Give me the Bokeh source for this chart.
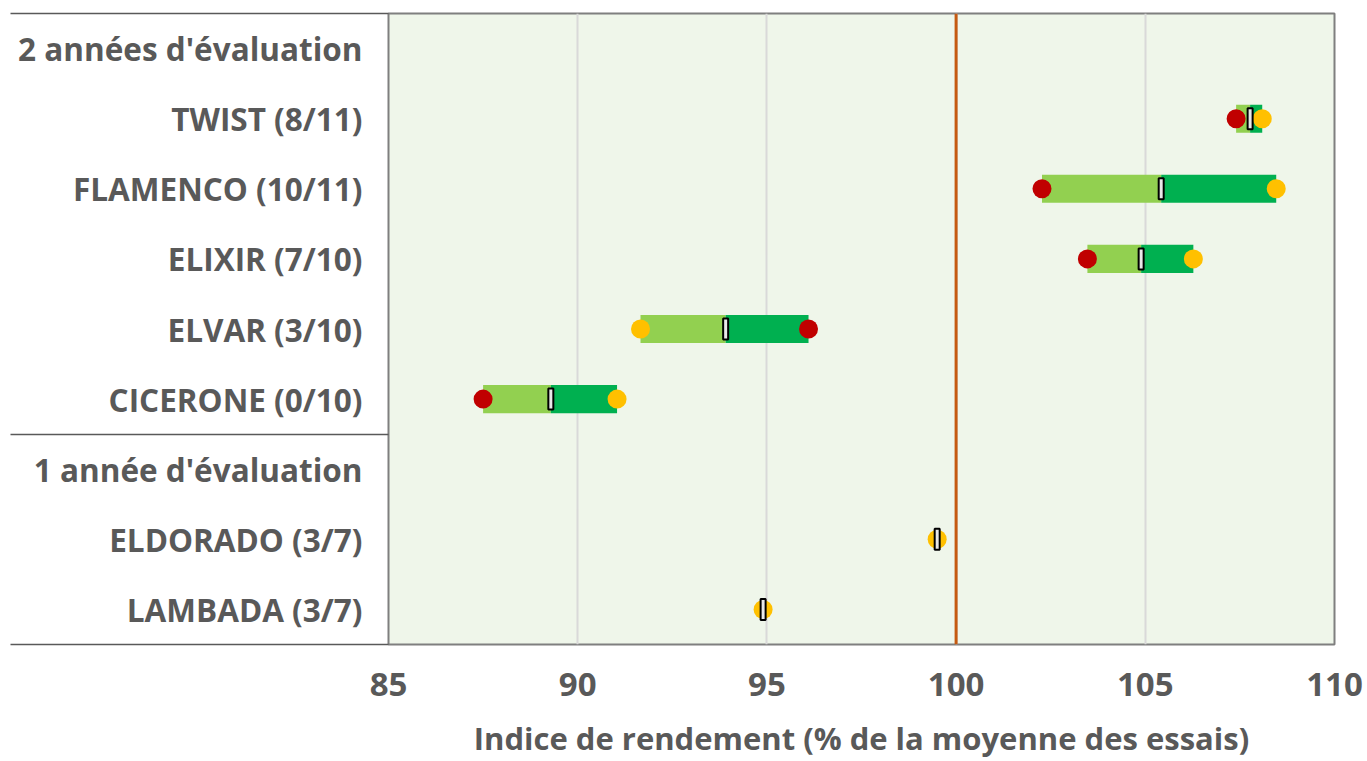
from bokeh.plotting import figure
from bokeh.models import Range1d, FixedTicker, Span, ColumnDataSource
from bokeh.embed import file_html
from bokeh.resources import INLINE

# ---------------- data ----------------
row_labels = ["2 années d'évaluation", "TWIST (8/11)", "FLAMENCO (10/11)", "ELIXIR (7/10)",
              "ELVAR (3/10)", "CICERONE (0/10)", "1 année d'évaluation",
              "ELDORADO (3/7)", "LAMBADA (3/7)"]

two_year_names = ["TWIST (8/11)", "FLAMENCO (10/11)", "ELIXIR (7/10)", "ELVAR (3/10)", "CICERONE (0/10)"]
red_values = [107.4, 102.27, 103.47, 96.1, 87.5]
yellow_two_values = [108.09, 108.46, 106.27, 91.66, 91.04]
mean_two_values = [107.77, 105.42, 104.89, 93.91, 89.29]

one_year_names = ["ELDORADO (3/7)", "LAMBADA (3/7)"]
yellow_one_values = [99.5, 94.9]
mean_one_values = [99.5, 94.9]

x_ticks = [85, 90, 95, 100, 105, 110]
grid_ticks = [90, 95, 100, 105]
reference_value = 100
group_boundaries = [-0.5, 2.5, 8.5]
x_title = "Indice de rendement (% de la moyenne des essais)"

# ---------------- styles ----------------
FONT = "Open Sans"
TXT = "#595959"
n = len(row_labels)
ypos = {lab: n - 1 - i for i, lab in enumerate(row_labels)}

SEP_LEN = 378

p = figure(width=1365, height=761, output_backend="svg", toolbar_location=None,
           x_range=Range1d(x_ticks[0], x_ticks[-1]), y_range=Range1d(-0.5, n - 0.5),
           min_border_left=388, min_border_right=31, min_border_top=13, min_border_bottom=113)
p.background_fill_color = "#EFF6EA"
p.border_fill_color = "white"
p.outline_line_color = "#7F7F7F"
p.outline_line_width = 2

# grid
p.xgrid.ticker = FixedTicker(ticks=grid_ticks)
p.xgrid.grid_line_color = "#D9D9D9"
p.xgrid.grid_line_width = 2
p.ygrid.grid_line_color = None

# x axis
xa = p.xaxis[0]
xa.ticker = FixedTicker(ticks=x_ticks)
xa.axis_line_color = None
xa.major_tick_line_color = None
xa.minor_tick_line_color = None
xa.major_label_text_font = FONT
xa.major_label_text_font_style = "bold"
xa.major_label_text_font_size = "33px"
xa.major_label_text_color = TXT
xa.major_label_standoff = 22
xa.axis_label = x_title
xa.axis_label_text_font = FONT
xa.axis_label_text_font_style = "bold"
xa.axis_label_text_font_size = "31px"
xa.axis_label_text_color = TXT
xa.axis_label_text_line_height = 0.7
xa.axis_label_standoff = 18

# y axis (labels + group separator lines via minor ticks)
ya = p.yaxis[0]
ya.ticker = FixedTicker(ticks=[ypos[l] for l in row_labels], minor_ticks=group_boundaries)
ya.major_label_overrides = {ypos[l]: l for l in row_labels}
ya.axis_line_color = None
ya.major_tick_line_color = None
ya.major_tick_out = 0
ya.major_tick_in = 0
ya.minor_tick_line_color = "#595959"
ya.minor_tick_line_width = 1.5
ya.minor_tick_out = SEP_LEN
ya.minor_tick_in = 0
ya.major_label_text_font = FONT
ya.major_label_text_font_style = "bold"
ya.major_label_text_font_size = "31.5px"
ya.major_label_text_color = TXT
ya.major_label_standoff = 26 - SEP_LEN

# bars
lo = [min(a, b) for a, b in zip(red_values, yellow_two_values)]
hi = [max(a, b) for a, b in zip(red_values, yellow_two_values)]
ys = [ypos[nm] for nm in two_year_names]
src = ColumnDataSource(dict(y=ys, lo=lo, hi=hi, mean=mean_two_values,
                            red=red_values, yellow=yellow_two_values))
p.hbar(y="y", left="lo", right="mean", height=0.4, fill_color="#92D050", line_color=None, source=src)
p.hbar(y="y", left="mean", right="hi", height=0.4, fill_color="#00B050", line_color=None, source=src)

# dots
p.scatter(x="red", y="y", size=19, fill_color="#C00000", line_color=None, source=src)
p.scatter(x="yellow", y="y", size=19, fill_color="#FFC000", line_color=None, source=src)
src1 = ColumnDataSource(dict(y=[ypos[nm] for nm in one_year_names], yellow=yellow_one_values,
                             mean=mean_one_values))
p.scatter(x="yellow", y="y", size=19, fill_color="#FFC000", line_color=None, source=src1)

# mean markers
for s in (src, src1):
    p.rect(x="mean", y="y", width=5, height=21, width_units="screen", height_units="screen",
           fill_color="#E8E8E8", line_color="black", line_width=2, source=s)

# reference line
p.add_layout(Span(location=reference_value, dimension="height", line_color="#C55A11", line_width=3))

open("out.html", "w").write(file_html(p, INLINE))
